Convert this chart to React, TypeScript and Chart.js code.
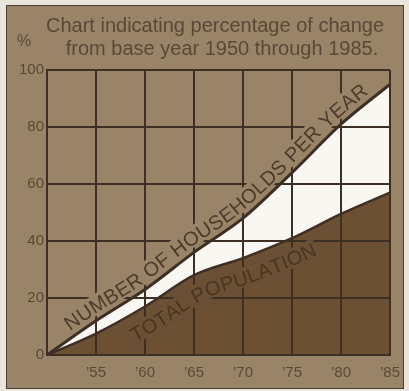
import React, { useEffect, useRef } from 'react';
import { Chart, registerables } from 'chart.js';
Chart.register(...registerables);

const years = ['1950', '1955', '1960', '1965', '1970', '1975', '1980', '1985'];
const xTickLabels = ['', '’55', '’60', '’65', '’70', '’75', '’80', '’85'];
const households = [0, 12, 23, 36, 48, 64, 81, 95];
const population = [0, 7.5, 17, 28, 34, 41, 49.5, 57];
const titleLines = ['Chart indicating percentage of change', 'from base year 1950 through 1985.'];
const unitLabel = '%';
const householdsLabel = 'NUMBER OF HOUSEHOLDS PER YEAR';
const populationLabel = 'TOTAL POPULATION';

const PAPER = '#e9e5dc';
const BG = '#9a8468';
const DARK = '#6b5034';
const WHITE = '#f8f7f2';
const GRID = '#3e2f25';
const TEXT = '#5a4836';
const FONT = '"Liberation Sans", Arial, Helvetica, sans-serif';

type P = { x: number; y: number };

function samplePath(chart: any, di: number): P[] {
  const pts = chart.getDatasetMeta(di).data as any[];
  const out: P[] = [];
  for (let i = 0; i < pts.length - 1; i++) {
    const a = pts[i];
    const b = pts[i + 1];
    const c1x = a.cp2x ?? a.x, c1y = a.cp2y ?? a.y;
    const c2x = b.cp1x ?? b.x, c2y = b.cp1y ?? b.y;
    const n = 24;
    for (let s = 0; s < n; s++) {
      const t = s / n, u = 1 - t;
      out.push({
        x: u * u * u * a.x + 3 * u * u * t * c1x + 3 * u * t * t * c2x + t * t * t * b.x,
        y: u * u * u * a.y + 3 * u * u * t * c1y + 3 * u * t * t * c2y + t * t * t * b.y,
      });
    }
  }
  const l = pts[pts.length - 1];
  out.push({ x: l.x, y: l.y });
  return out;
}

function offsetPath(path: P[], d: number): P[] {
  return path.map((p, i) => {
    const a = path[Math.max(0, i - 1)];
    const b = path[Math.min(path.length - 1, i + 1)];
    const dx = b.x - a.x, dy = b.y - a.y;
    const L = Math.hypot(dx, dy) || 1;
    return { x: p.x + (d * dy) / L, y: p.y - (d * dx) / L };
  });
}

function drawOnPath(
  chart: any,
  di: number,
  text: string,
  startIndex: number,
  offset: number,
  size: number,
  spacing: number,
  color: string,
  band: string
) {
  const ctx: CanvasRenderingContext2D = chart.ctx;
  const xs = chart.scales.x;
  const startX = xs.getPixelForValue(startIndex);
  const path = offsetPath(samplePath(chart, di), offset);
  const cum: number[] = [0];
  for (let i = 1; i < path.length; i++) {
    cum.push(cum[i - 1] + Math.hypot(path[i].x - path[i - 1].x, path[i].y - path[i - 1].y));
  }
  let si = 0;
  while (si < path.length - 1 && path[si].x < startX) si++;
  const at = (dist: number) => {
    let i = 1;
    while (i < path.length - 1 && cum[i] < dist) i++;
    const a = path[i - 1], b = path[i];
    const seg = cum[i] - cum[i - 1] || 1;
    const t = (dist - cum[i - 1]) / seg;
    return { x: a.x + (b.x - a.x) * t, y: a.y + (b.y - a.y) * t, ang: Math.atan2(b.y - a.y, b.x - a.x) };
  };
  ctx.save();
  ctx.font = `${size}px ${FONT}`;
  ctx.textAlign = 'center';
  ctx.textBaseline = 'alphabetic';
  const items: any[] = [];
  let cursor = cum[si];
  for (const ch of text) {
    const w = ctx.measureText(ch).width;
    const p = at(cursor + w / 2);
    items.push({ ch, w, ...p });
    cursor += w + spacing;
  }
  const cap = size * 0.72;
  ctx.fillStyle = band;
  for (const it of items) {
    ctx.save();
    ctx.translate(it.x, it.y);
    ctx.rotate(it.ang);
    ctx.fillRect(-it.w / 2 - 2, -cap - 3, it.w + 4, cap + 5);
    ctx.restore();
  }
  ctx.fillStyle = color;
  for (const it of items) {
    ctx.save();
    ctx.translate(it.x, it.y);
    ctx.rotate(it.ang);
    ctx.fillText(it.ch, 0, 0);
    ctx.restore();
  }
  ctx.restore();
}

export default function App() {
  const ref = useRef<HTMLCanvasElement>(null);
  useEffect(() => {
    document.body.style.margin = '0';
    const canvas = ref.current!;
    const decor = {
      id: 'decor',
      afterDraw(chart: any) {
        const ctx: CanvasRenderingContext2D = chart.ctx;
        ctx.save();
        ctx.fillStyle = TEXT;
        ctx.textAlign = 'center';
        ctx.textBaseline = 'alphabetic';
        ctx.font = `20px ${FONT}`;
        ctx.fillText(titleLines[0], 215, 32);
        ctx.fillText(titleLines[1], 222, 55);
        ctx.font = `16px ${FONT}`;
        ctx.fillText(unitLabel, 24, 46);
        ctx.restore();
        drawOnPath(chart, 1, householdsLabel, 0.46, 6, 20, 0.4, '#4c3a2a', BG);
        drawOnPath(chart, 0, populationLabel, 1.76, -26, 20, 0.3, '#4a3424', DARK);
      },
    };
    const chart = new Chart(canvas, {
      type: 'line',
      data: {
        labels: years,
        datasets: [
          {
            data: population,
            borderColor: GRID,
            borderWidth: 2.5,
            backgroundColor: DARK,
            fill: 'origin',
            pointRadius: 0,
            cubicInterpolationMode: 'monotone',
          },
          {
            data: households,
            borderColor: GRID,
            borderWidth: 3,
            backgroundColor: WHITE,
            fill: '-1',
            pointRadius: 0,
            cubicInterpolationMode: 'monotone',
          },
        ],
      },
      options: {
        animation: false,
        responsive: false,
        layout: { padding: { top: 70, right: 12, left: 0, bottom: 0 } },
        plugins: { legend: { display: false }, tooltip: { enabled: false }, title: { display: false } },
        scales: {
          x: {
            type: 'category',
            offset: false,
            grid: { color: GRID, lineWidth: 2, drawTicks: false, offset: false, z: 1 },
            border: { color: GRID, width: 2, z: 1 },
            ticks: {
              color: TEXT,
              font: { family: FONT, size: 15 },
              padding: 9,
              maxRotation: 0,
              autoSkip: false,
              callback: (_v: any, i: number) => xTickLabels[i],
            },
            afterFit: (s: any) => {
              s.height = 36;
            },
          },
          y: {
            min: 0,
            max: 100,
            grid: { color: GRID, lineWidth: 2, drawTicks: false, z: 1 },
            border: { color: GRID, width: 2, z: 1 },
            ticks: { stepSize: 20, padding: 3, color: TEXT, font: { family: FONT, size: 15 } },
            afterFit: (s: any) => {
              s.width = 47;
            },
          },
        },
      },
      plugins: [decor],
    } as any);
    return () => chart.destroy();
  }, []);
  return (
    <div style={{ position: 'fixed', left: 0, top: 0, width: 409, height: 391, background: PAPER }}>
      <div
        style={{
          position: 'absolute',
          left: 6,
          top: 5,
          width: 398,
          height: 384,
          boxSizing: 'border-box',
          background: BG,
          border: '1.5px solid #4d3d30',
        }}
      />
      <canvas ref={ref} width={409} height={391} style={{ position: 'absolute', left: 0, top: 0, width: 409, height: 391 }} />
    </div>
  );
}
